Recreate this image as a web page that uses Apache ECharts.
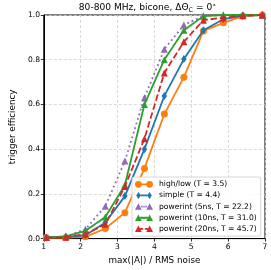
<!DOCTYPE html>
<html><head><meta charset="utf-8">
<script src="https://cdn.jsdelivr.net/npm/echarts@6/dist/echarts.min.js"></script>
<style>html,body{margin:0;padding:0;background:#fff}#c{width:271px;height:270px}</style>
</head><body><div id="c"></div>
<script>
const xValues = [1.07, 1.6, 2.13, 2.67, 3.2, 3.73, 4.27, 4.8, 5.33, 5.87, 6.4, 6.93];
const highLow = [0.005, 0.005, 0.008, 0.045, 0.116, 0.314, 0.557, 0.722, 0.929, 0.965, 0.995, 1.0];
const simple = [0.005, 0.008, 0.015, 0.072, 0.19, 0.40, 0.638, 0.803, 0.932, 0.981, 0.997, 1.0];
const powerint5 = [0.005, 0.01, 0.042, 0.145, 0.347, 0.63, 0.847, 0.955, 0.996, 1.0, 1.0, 1.0];
const powerint10 = [0.005, 0.01, 0.035, 0.097, 0.24, 0.60, 0.80, 0.932, 0.995, 1.0, 1.0, 1.0];
const powerint20 = [0.005, 0.006, 0.02, 0.064, 0.233, 0.447, 0.741, 0.88, 0.977, 0.988, 0.997, 1.0];
const seriesNames = ['high/low (T = 3.5)', 'simple (T = 4.4)', 'powerint (5ns, T = 22.2)', 'powerint (10ns, T = 31.0)', 'powerint (20ns, T = 45.7)'];
const xTicks = [1, 2, 3, 4, 5, 6, 7];
const yTicks = [0.0, 0.2, 0.4, 0.6, 0.8, 1.0];

const FONT = 'DejaVu Sans';
const pair = (ys) => xValues.map((x, i) => [x, ys[i]]);

const circ = 'M0.2,3.5a3.3,3.3 0 1,1 6.6,0a3.3,3.3 0 1,1 -6.6,0Z M11.2,3.5a3.3,3.3 0 1,1 6.6,0a3.3,3.3 0 1,1 -6.6,0Z';
const dia = 'M3.5,0L5.8,3.5L3.5,7L1.2,3.5Z M14.5,0L16.8,3.5L14.5,7L12.2,3.5Z';
const tri = 'M3.5,0.2L6.8,6.6L0.2,6.6Z M14.5,0.2L17.8,6.6L11.2,6.6Z';
const icons = [
  'path://' + circ + ' M6.6,2.6H11.4V4.4H6.6Z',
  'path://' + dia + ' M5.6,2.6H12.4V4.4H5.6Z',
  'path://' + tri + ' M6.2,2.6H7.6V4.4H6.2Z M8.3,2.6H9.7V4.4H8.3Z M10.4,2.6H11.8V4.4H10.4Z',
  'path://' + tri + ' M5.2,2.6H12.8V4.4H5.2Z',
  'path://' + tri + ' M5.2,2.6H8.2V4.4H5.2Z M9.8,2.6H12.8V4.4H9.8Z'
];
const colors = ['#ff7f0e', '#1f77b4', '#9467bd', '#2ca02c', '#d62728'];
const datasets = [highLow, simple, powerint5, powerint10, powerint20];
const symbols = ['circle', 'diamond', 'triangle', 'triangle', 'triangle'];
const symSizes = [7, [5.5, 8], 7, 7, 7];
const lineTypes = ['solid', 'solid', [1.8, 3], 'solid', [6.5, 2.8]];

const chart = echarts.init(document.getElementById('c'), null, {renderer: 'canvas'});
chart.setOption({
  animation: false,
  textStyle: {fontFamily: FONT},
  graphic: [{
    type: 'text', x: 147.5, y: 8,
    style: {
      text: '80-800 MHz, bicone, ΔΘ{sub|C} = 0{sup|∘}',
      fontFamily: FONT, fontSize: 9.1, fill: '#000',
      align: 'center', verticalAlign: 'middle',
      rich: {
        sub: {fontFamily: FONT, fontSize: 6.4, verticalAlign: 'bottom', padding: [5, 0, 0, 0], fill: '#000'},
        sup: {fontFamily: FONT, fontSize: 6.4, verticalAlign: 'top', padding: [0, 0, 4, 0], fill: '#000'}
      }
    }
  }],
  grid: {left: 30, right: 6, top: 15, bottom: 29, show: true, borderColor: '#000', borderWidth: 1, backgroundColor: 'transparent'},
  xAxis: {
    type: 'value', min: xTicks[0], max: xTicks[xTicks.length - 1], interval: 1,
    name: 'max(|A|) / RMS noise', nameLocation: 'middle', nameGap: 15.5,
    nameTextStyle: {fontFamily: FONT, fontSize: 8.8, color: '#000'},
    axisLine: {show: true, lineStyle: {color: '#000', width: 1}},
    axisTick: {show: true, length: 3, lineStyle: {color: '#000', width: 0.8}},
    axisLabel: {fontFamily: FONT, fontSize: 7.6, color: '#000', margin: 4.5},
    splitLine: {show: true, lineStyle: {color: '#d0d0d0', width: 0.8, type: [3, 2]}}
  },
  yAxis: {
    type: 'value', min: yTicks[0], max: yTicks[yTicks.length - 1], interval: 0.2,
    name: 'trigger efficiency', nameLocation: 'middle', nameGap: 16.5,
    nameTextStyle: {fontFamily: FONT, fontSize: 8.8, color: '#000'},
    axisLine: {show: true, lineStyle: {color: '#000', width: 1}},
    axisTick: {show: true, length: 3, lineStyle: {color: '#000', width: 0.8}},
    axisLabel: {fontFamily: FONT, fontSize: 7.6, color: '#000', margin: 3.8, formatter: (v) => v.toFixed(1)},
    splitLine: {show: true, lineStyle: {color: '#d0d0d0', width: 0.8, type: [3, 2]}}
  },
  legend: {
    orient: 'vertical', left: 132, top: 177,
    padding: [3, 4, 3, 3], itemGap: 2.4, itemWidth: 18, itemHeight: 7,
    backgroundColor: 'rgba(255,255,255,0.85)', borderColor: '#cccccc', borderWidth: 0.8, borderRadius: 2,
    textStyle: {fontFamily: FONT, fontSize: 7.6, lineHeight: 8.7, color: '#000', padding: [0, 0, 0, 1]},
    data: seriesNames.map((n, i) => ({name: n, icon: icons[i], itemStyle: {color: colors[i]}}))
  },
  series: datasets.map((d, i) => ({
    name: seriesNames[i], type: 'line', data: pair(d),
    symbol: symbols[i], symbolSize: symSizes[i], showSymbol: true,
    itemStyle: {color: colors[i], borderWidth: 0},
    lineStyle: {color: colors[i], width: 1.8, type: lineTypes[i], cap: 'butt'},
    z: 2 + i
  }))
});
</script></body></html>
